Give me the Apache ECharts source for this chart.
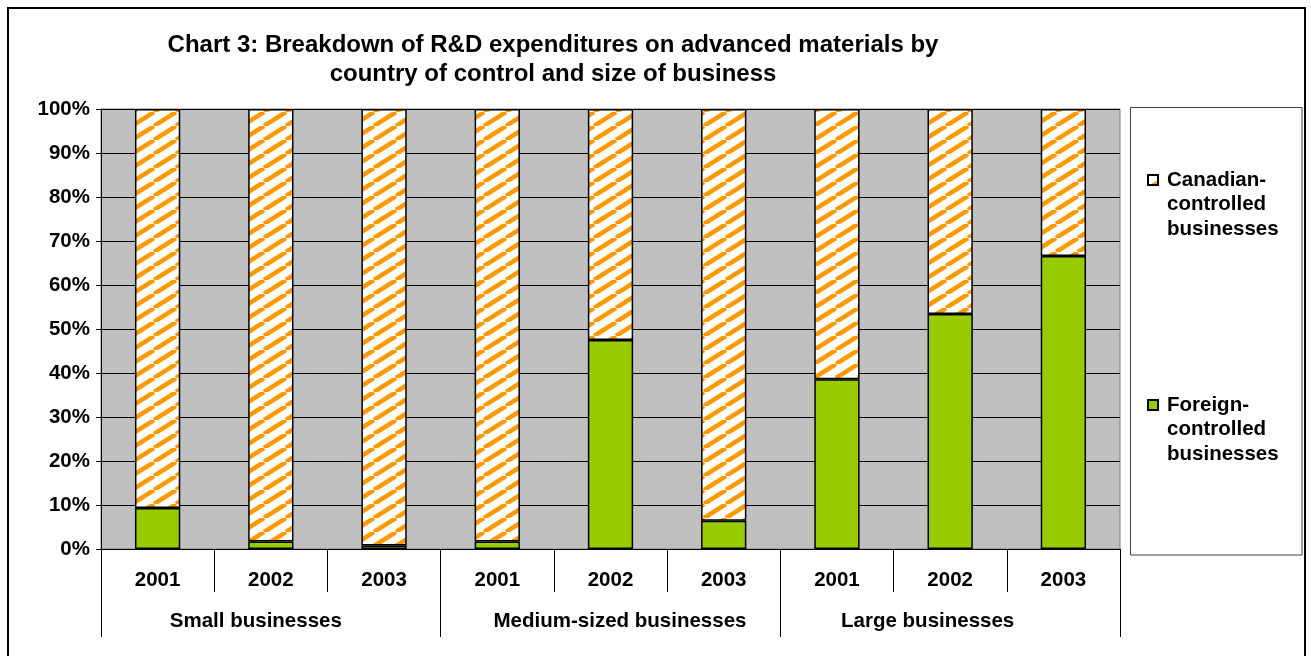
<!DOCTYPE html>
<html>
<head>
<meta charset="utf-8">
<style>
  html, body { margin: 0; padding: 0; background: #ffffff; }
  #chart { width: 1311px; height: 656px; }
</style>
<script src="https://cdn.jsdelivr.net/npm/echarts@6/dist/echarts.min.js"></script>
</head>
<body>
<div id="chart"></div>
<script>
// Categories: year within each business size group
const years = ['2001', '2002', '2003', '2001', '2002', '2003', '2001', '2002', '2003'];
const sizeGroups = ['Small businesses', 'Medium-sized businesses', 'Large businesses'];
const yTicks = [0, 10, 20, 30, 40, 50, 60, 70, 80, 90, 100];

// Share of R&D expenditures (%) by country of control
const foreignControlled = [9.3, 1.7, 0.8, 1.7, 47.5, 6.4, 38.6, 53.4, 66.6];
const canadianControlled = [90.7, 98.3, 99.2, 98.3, 52.5, 93.6, 61.4, 46.6, 33.4];

const seriesNames = ['Canadian-controlled businesses', 'Foreign-controlled businesses'];
const legendLabels = {
  'Canadian-controlled businesses': 'Canadian-\ncontrolled\nbusinesses',
  'Foreign-controlled businesses': 'Foreign-\ncontrolled\nbusinesses'
};
const titleText = 'Chart 3: Breakdown of R&D expenditures on advanced materials by\ncountry of control and size of business';

const FONT = '"Liberation Sans", Arial, sans-serif';

// Orange upward-diagonal hatch on white
function hatchPattern() {
  const w = 22, h = 14;
  const c = document.createElement('canvas');
  c.width = w; c.height = h;
  const ctx = c.getContext('2d');
  ctx.fillStyle = '#ffffff';
  ctx.fillRect(0, 0, w, h);
  ctx.strokeStyle = '#ff9900';
  ctx.lineWidth = 4.5;
  [-w, 0, w].forEach(function (dx) {
    ctx.beginPath();
    ctx.moveTo(dx, h);
    ctx.lineTo(dx + w, 0);
    ctx.stroke();
  });
  return c;
}

// Group label styles: each group name sits slightly off its span centre
const groupLabelFont = { fontFamily: FONT, fontWeight: 'bold', fontSize: 20.5, color: '#000000' };
const groupRich = {
  g0: Object.assign({ padding: [0, 30, 0, 0] }, groupLabelFont),
  g1: Object.assign({ padding: [0, 0, 0, 19] }, groupLabelFont),
  g2: Object.assign({ padding: [0, 45, 0, 0] }, groupLabelFont)
};

const chart = echarts.init(document.getElementById('chart'), null, { renderer: 'canvas' });

const option = {
  backgroundColor: '#ffffff',
  animation: false,
  textStyle: { fontFamily: FONT },
  graphic: [
    {
      type: 'rect', z: 0, silent: true,
      shape: { x: 8, y: 8, width: 1297, height: 700 },
      style: { fill: 'none', stroke: '#000000', lineWidth: 2 }
    },
    {
      type: 'rect', z: 1, silent: true,
      shape: { x: 1130.5, y: 107.5, width: 171.5, height: 447.5 },
      style: { fill: '#ffffff', stroke: '#404040', lineWidth: 1 }
    },
    {
      type: 'text', z: 2, silent: true,
      x: 553, y: 59.5,
      style: {
        text: titleText,
        font: 'bold 24px ' + FONT,
        fill: '#000000',
        align: 'center',
        verticalAlign: 'middle',
        lineHeight: 29
      }
    }
  ],
  legend: {
    z: 5,
    orient: 'vertical',
    align: 'left',
    left: 1147,
    top: 118.75,
    padding: 0,
    itemGap: 102.5,
    itemWidth: 10,
    itemHeight: 10,
    icon: 'rect',
    data: seriesNames,
    formatter: function (name) { return '\n\n' + legendLabels[name]; },
    textStyle: {
      fontFamily: FONT,
      fontWeight: 'bold',
      fontSize: 20.5,
      lineHeight: 24.5,
      color: '#000000',
      padding: [0, 0, 0, 4]
    }
  },
  grid: {
    left: 101,
    right: 191,
    top: 109,
    bottom: 107,
    show: true,
    backgroundColor: '#c0c0c0',
    borderColor: '#808080',
    borderWidth: 1,
    containLabel: false
  },
  xAxis: [
    {
      type: 'category',
      position: 'bottom',
      data: years,
      axisLine: { show: true, lineStyle: { color: '#000000', width: 1 } },
      axisTick: { show: true, interval: 0, length: 43, alignWithLabel: false, lineStyle: { color: '#000000' } },
      axisLabel: {
        interval: 0, margin: 21, color: '#000000',
        fontFamily: FONT, fontWeight: 'bold', fontSize: 20.5
      },
      splitLine: { show: false }
    },
    {
      type: 'category',
      position: 'bottom',
      offset: 0,
      data: sizeGroups,
      axisLine: { show: false },
      axisTick: { show: true, interval: 0, length: 88, alignWithLabel: false, lineStyle: { color: '#000000' } },
      axisLabel: {
        interval: 0, margin: 62, color: '#000000',
        fontFamily: FONT, fontWeight: 'bold', fontSize: 20.5,
        formatter: function (value, index) { return '{g' + index + '|' + value + '}'; },
        rich: groupRich
      },
      splitLine: { show: false }
    }
  ],
  yAxis: {
    type: 'value',
    min: yTicks[0],
    max: yTicks[yTicks.length - 1],
    interval: 10,
    axisLine: { show: true, lineStyle: { color: '#000000', width: 1 } },
    axisTick: { show: true, length: 5, lineStyle: { color: '#000000' } },
    axisLabel: {
      margin: 11, color: '#000000',
      fontFamily: FONT, fontWeight: 'bold', fontSize: 20.5,
      formatter: '{value}%'
    },
    splitLine: { show: true, lineStyle: { color: '#000000', width: 1 } }
  },
  series: [
    {
      name: seriesNames[1],
      type: 'bar',
      stack: 'share',
      xAxisIndex: 0,
      barWidth: '40%',
      data: foreignControlled,
      itemStyle: { color: '#99cc00', borderColor: '#000000', borderWidth: 1.5 }
    },
    {
      name: seriesNames[0],
      type: 'bar',
      stack: 'share',
      xAxisIndex: 0,
      barWidth: '40%',
      data: canadianControlled,
      itemStyle: {
        color: { image: hatchPattern(), repeat: 'repeat' },
        borderColor: '#000000',
        borderWidth: 1.5
      }
    }
  ]
};

chart.setOption(option);
</script>
</body>
</html>
